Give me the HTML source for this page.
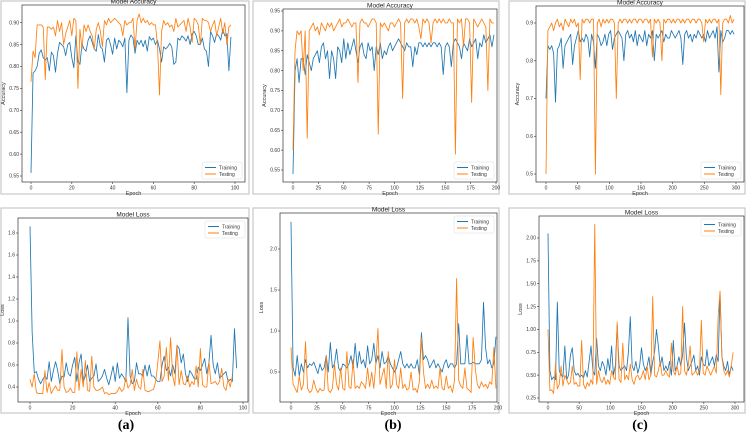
<!DOCTYPE html>
<html><head><meta charset="utf-8"><style>
html,body{margin:0;padding:0;background:#fff;width:746px;height:438px;overflow:hidden;font-family:"Liberation Sans",sans-serif}
svg text{font-family:"Liberation Sans",sans-serif}
svg text.serif{font-family:"Liberation Serif",serif}
</style></head><body>
<svg id="fig" width="746" height="438" viewBox="0 0 746 438"></svg>
<script>
const aAccTrain=[0.557,0.785,0.79,0.80,0.83,0.838,0.82,0.815,0.82,0.79,0.833,0.825,0.787,0.83,0.855,0.85,0.845,0.825,0.85,0.855,0.82,0.797,0.87,0.81,0.805,0.852,0.84,0.835,0.86,0.87,0.855,0.84,0.835,0.873,0.845,0.84,0.81,0.86,0.865,0.85,0.828,0.865,0.84,0.86,0.855,0.845,0.865,0.74,0.86,0.872,0.865,0.83,0.86,0.85,0.86,0.845,0.86,0.835,0.868,0.86,0.865,0.85,0.86,0.84,0.81,0.845,0.84,0.845,0.853,0.845,0.805,0.81,0.865,0.86,0.87,0.865,0.858,0.87,0.85,0.875,0.88,0.87,0.85,0.85,0.865,0.84,0.835,0.80,0.88,0.87,0.855,0.875,0.87,0.86,0.885,0.87,0.875,0.79,0.868];
const aAccTest=[0.765,0.835,0.82,0.895,0.895,0.895,0.89,0.77,0.89,0.89,0.885,0.89,0.87,0.905,0.88,0.90,0.85,0.875,0.89,0.905,0.87,0.91,0.905,0.75,0.885,0.84,0.895,0.88,0.895,0.88,0.87,0.84,0.885,0.90,0.88,0.845,0.905,0.895,0.91,0.90,0.905,0.91,0.905,0.90,0.895,0.87,0.905,0.895,0.90,0.90,0.91,0.84,0.905,0.92,0.90,0.91,0.90,0.905,0.895,0.90,0.895,0.895,0.85,0.735,0.88,0.905,0.895,0.90,0.89,0.895,0.88,0.91,0.89,0.895,0.90,0.905,0.88,0.91,0.89,0.855,0.91,0.905,0.895,0.85,0.91,0.905,0.905,0.90,0.88,0.895,0.905,0.87,0.89,0.91,0.875,0.90,0.85,0.89,0.895];
const aLossTrain=[1.86,0.9,0.53,0.54,0.47,0.43,0.47,0.5,0.47,0.63,0.45,0.55,0.63,0.55,0.43,0.5,0.49,0.62,0.52,0.5,0.6,0.67,0.45,0.62,0.7,0.45,0.5,0.6,0.45,0.48,0.5,0.61,0.45,0.47,0.5,0.56,0.48,0.42,0.5,0.59,0.45,0.62,0.48,0.52,0.49,0.45,1.03,0.5,0.43,0.45,0.62,0.52,0.52,0.5,0.6,0.5,0.6,0.5,0.5,0.47,0.45,0.45,0.6,0.68,0.55,0.58,0.5,0.6,0.52,0.78,0.75,0.62,0.7,0.52,0.45,0.55,0.52,0.48,0.47,0.58,0.55,0.6,0.66,0.52,0.62,0.87,0.6,0.52,0.62,0.48,0.5,0.52,0.54,0.45,0.47,0.45,0.93,0.57];
const aLossTest=[0.47,0.4,0.52,0.35,0.34,0.34,0.34,0.55,0.35,0.44,0.34,0.38,0.41,0.37,0.37,0.74,0.4,0.35,0.36,0.39,0.35,0.35,0.72,0.37,0.56,0.4,0.64,0.37,0.36,0.68,0.4,0.37,0.37,0.38,0.4,0.34,0.35,0.33,0.34,0.34,0.34,0.36,0.4,0.36,0.38,0.49,0.39,0.42,0.56,0.37,0.47,0.4,0.38,0.56,0.37,0.36,0.36,0.37,0.38,0.45,0.62,0.82,0.45,0.5,0.76,0.46,0.85,0.5,0.41,0.78,0.42,0.55,0.43,0.42,0.5,0.4,0.45,0.42,0.59,0.4,0.75,0.42,0.4,0.4,0.63,0.43,0.44,0.45,0.42,0.45,0.57,0.4,0.37,0.47,0.4,0.5];
const bAccTrain=[0.54,0.80,0.83,0.77,0.83,0.83,0.79,0.84,0.82,0.80,0.83,0.84,0.85,0.82,0.86,0.87,0.83,0.85,0.78,0.85,0.83,0.78,0.86,0.85,0.82,0.88,0.83,0.87,0.84,0.86,0.88,0.85,0.82,0.86,0.87,0.84,0.83,0.87,0.85,0.86,0.80,0.86,0.84,0.87,0.83,0.85,0.84,0.86,0.87,0.85,0.86,0.87,0.88,0.87,0.86,0.85,0.87,0.86,0.86,0.81,0.86,0.84,0.87,0.87,0.86,0.87,0.86,0.87,0.86,0.87,0.87,0.86,0.87,0.86,0.79,0.86,0.87,0.86,0.81,0.87,0.88,0.87,0.86,0.83,0.87,0.86,0.85,0.88,0.86,0.87,0.88,0.83,0.87,0.86,0.89,0.87,0.88,0.89,0.86,0.89];
const bAccTest=[0.60,0.85,0.90,0.89,0.90,0.80,0.90,0.63,0.90,0.91,0.92,0.90,0.91,0.89,0.92,0.91,0.90,0.92,0.91,0.92,0.90,0.91,0.92,0.93,0.91,0.92,0.92,0.93,0.92,0.91,0.92,0.92,0.77,0.92,0.93,0.92,0.92,0.91,0.92,0.93,0.93,0.92,0.64,0.92,0.91,0.92,0.91,0.90,0.92,0.92,0.91,0.92,0.93,0.92,0.73,0.92,0.93,0.92,0.93,0.93,0.92,0.93,0.91,0.88,0.93,0.92,0.93,0.92,0.87,0.92,0.93,0.92,0.93,0.92,0.93,0.92,0.92,0.93,0.92,0.92,0.59,0.93,0.92,0.93,0.86,0.93,0.93,0.92,0.72,0.93,0.92,0.91,0.92,0.93,0.92,0.91,0.75,0.93,0.92,0.92];
const bLossTrain=[2.33,0.55,0.45,0.7,0.45,0.6,0.5,0.65,0.55,0.6,0.58,0.62,0.55,0.48,0.6,0.52,0.55,0.7,0.5,0.86,0.55,0.6,0.78,0.55,0.5,0.6,0.58,0.55,0.6,0.7,0.55,0.85,0.55,0.75,0.6,0.65,0.55,0.82,0.6,0.65,0.85,0.6,0.7,0.55,0.75,0.6,0.62,0.7,0.6,0.55,0.5,0.55,0.65,0.75,0.6,0.55,0.6,0.55,0.6,0.55,0.55,0.65,0.47,0.98,0.65,0.7,0.65,0.55,0.6,0.65,0.55,0.6,0.55,0.5,0.6,0.65,0.55,0.6,0.6,0.55,0.6,1.09,0.6,0.6,0.6,0.95,0.6,0.6,0.62,0.6,0.6,0.6,0.65,1.35,0.8,0.6,0.65,0.55,0.6,0.93];
const bLossTest=[0.8,0.35,0.3,0.25,0.45,0.28,0.35,0.87,0.3,0.25,0.27,0.4,0.3,0.25,0.3,0.27,0.28,0.7,0.28,0.25,0.3,0.6,0.35,0.28,0.55,0.3,0.28,0.75,0.32,0.3,0.65,0.3,0.33,0.3,0.38,0.35,0.3,0.55,0.32,0.5,0.3,0.6,1.03,0.35,0.45,0.55,0.3,0.75,0.3,0.35,0.65,0.35,0.3,0.55,0.3,0.35,0.28,0.3,0.5,0.28,0.3,0.25,0.38,0.92,0.5,0.3,0.35,0.3,0.4,0.3,0.33,0.3,0.55,0.3,0.28,0.45,0.3,0.33,0.25,0.4,1.64,0.4,0.33,0.3,0.55,0.3,0.28,0.25,0.92,0.55,0.35,0.3,0.38,0.32,0.35,0.3,0.38,0.35,0.8,0.3];
const cAccTrain=[0.70,0.84,0.83,0.84,0.82,0.69,0.83,0.84,0.86,0.78,0.84,0.85,0.86,0.87,0.79,0.84,0.86,0.88,0.85,0.86,0.85,0.87,0.86,0.81,0.87,0.85,0.78,0.87,0.86,0.84,0.85,0.87,0.84,0.87,0.88,0.83,0.86,0.87,0.88,0.87,0.86,0.80,0.87,0.88,0.86,0.87,0.85,0.88,0.84,0.87,0.86,0.85,0.88,0.84,0.87,0.86,0.88,0.80,0.87,0.86,0.87,0.88,0.85,0.87,0.86,0.86,0.88,0.87,0.86,0.87,0.88,0.86,0.79,0.87,0.88,0.86,0.87,0.85,0.87,0.86,0.88,0.87,0.86,0.87,0.85,0.88,0.86,0.87,0.88,0.86,0.89,0.77,0.88,0.85,0.86,0.88,0.88,0.87,0.88,0.87];
const cAccTest=[0.50,0.88,0.89,0.90,0.88,0.90,0.91,0.89,0.90,0.88,0.91,0.90,0.89,0.91,0.90,0.91,0.89,0.90,0.75,0.91,0.90,0.91,0.91,0.90,0.91,0.91,0.50,0.90,0.91,0.89,0.91,0.90,0.91,0.90,0.91,0.91,0.90,0.70,0.90,0.91,0.90,0.91,0.91,0.90,0.91,0.90,0.91,0.91,0.90,0.91,0.91,0.90,0.91,0.91,0.90,0.91,0.81,0.91,0.90,0.91,0.90,0.80,0.91,0.90,0.91,0.91,0.90,0.91,0.90,0.91,0.91,0.90,0.91,0.90,0.91,0.91,0.90,0.91,0.91,0.90,0.91,0.91,0.90,0.85,0.91,0.90,0.91,0.90,0.91,0.91,0.90,0.91,0.71,0.90,0.91,0.91,0.90,0.92,0.90,0.91];
const cLossTrain=[2.05,0.55,0.45,0.48,0.45,1.3,0.55,0.5,0.48,0.82,0.45,0.5,0.72,0.8,0.55,0.5,0.52,0.48,0.5,0.47,0.55,0.48,0.65,0.82,0.55,0.5,0.9,0.6,0.55,0.65,0.6,0.5,0.68,0.55,0.82,0.5,0.6,1.05,0.6,0.55,0.58,0.6,0.55,0.75,1.14,0.6,0.55,0.65,0.52,0.6,0.8,0.62,0.55,0.6,0.7,0.5,0.65,0.75,1.0,0.82,0.6,0.7,0.55,0.6,0.55,0.65,0.5,0.88,0.55,0.6,0.7,0.6,0.72,1.07,0.7,0.55,0.6,0.65,0.72,0.55,0.6,0.5,0.7,0.62,0.6,0.78,0.6,0.65,0.7,0.6,0.72,0.65,1.4,0.7,0.6,0.55,0.65,0.5,0.6,0.55];
const cLossTest=[1.0,0.33,0.34,0.3,0.62,0.35,0.4,0.6,0.38,0.5,0.45,0.4,0.42,0.6,0.4,0.42,0.38,0.38,0.88,0.4,0.35,0.42,0.38,0.45,0.4,2.15,0.4,0.55,0.45,0.42,0.48,0.4,0.45,0.4,0.55,0.48,0.45,1.08,0.45,0.42,0.85,0.45,0.5,0.45,0.62,0.45,0.4,0.48,0.5,0.45,0.48,0.55,0.45,0.6,0.45,0.5,1.36,0.5,0.48,0.55,0.65,0.5,0.5,0.55,0.5,0.48,0.85,0.55,0.5,0.6,0.5,0.52,1.25,0.55,0.5,0.6,0.82,0.5,0.52,0.55,0.5,0.55,1.1,0.52,0.5,0.6,0.55,0.5,0.55,0.6,0.52,1.15,1.42,0.7,0.55,0.5,0.55,0.48,0.6,0.75];
const aXTicks=[0,20,40,60,80,100], bXTicks=[0,25,50,75,100,125,150,175,200], cXTicks=[0,50,100,150,200,250,300];
const aAccYTicks=[0.55,0.60,0.65,0.70,0.75,0.80,0.85,0.90];
const bAccYTicks=[0.55,0.60,0.65,0.70,0.75,0.80,0.85,0.90,0.95];
const cAccYTicks=[0.5,0.6,0.7,0.8,0.9];
const aLossYTicks=[0.4,0.6,0.8,1.0,1.2,1.4,1.6,1.8];
const bLossYTicks=[0.5,1.0,1.5,2.0];
const cLossYTicks=[0.25,0.50,0.75,1.00,1.25,1.50,1.75,2.00];
const aStep=1,bStep=2,cStep=3;

const NS='http://www.w3.org/2000/svg';
const svg=document.getElementById('fig');
function mk(tag,attrs,parent){const e=document.createElementNS(NS,tag);for(const k in attrs)e.setAttribute(k,attrs[k]);(parent||svg).appendChild(e);return e;}

function panel(p){
  const g=mk('g',{});
  
  
  const fr=mk('rect',{x:p.fx,y:p.fy,width:p.fw,height:p.fh,fill:'none',stroke:'#c8c8c8','stroke-width':1.2},g);
  
  
  const sx=v=>p.x0+(v-p.xmin)/(p.xmax-p.xmin)*(p.x1-p.x0);
  const sy=v=>p.y0+(v-p.ymin)/(p.ymax-p.ymin)*(p.y1-p.y0);
  const ax=mk('rect',{x:p.l,y:p.t,width:p.r-p.l,height:p.b-p.t,fill:'#fff',stroke:'#333','stroke-width':0.7},g);
  
  
  p.xt.forEach(v=>{const X=sx(v);mk('line',{x1:X,x2:X,y1:p.b,y2:p.b+2,stroke:'#333','stroke-width':0.6},g);
    const t=mk('text',{x:X,y:p.b+7.5,'font-size':5,'text-anchor':'middle',fill:'#333'},g);t.textContent=v;
    
    });
  p.yt.forEach(v=>{const Y=sy(v);mk('line',{x1:p.l-2,x2:p.l,y1:Y,y2:Y,stroke:'#333','stroke-width':0.6},g);
    const t=mk('text',{x:p.l-3,y:Y+1.7,'font-size':5,'text-anchor':'end',fill:'#333'},g);t.textContent=v.toFixed(p.dec);
    
    });
  const tt=mk('text',{x:(p.l+p.r)/2,y:p.t-1.5,'font-size':6.5,'text-anchor':'middle',fill:'#222'},g);tt.textContent=p.title;
  
  
  const xl=mk('text',{x:(p.l+p.r)/2,y:p.b+13,'font-size':5.5,'text-anchor':'middle',fill:'#333'},g);xl.textContent='Epoch';
  
  
  const yx=Math.max(p.l-17,4), yy=(p.t+p.b)/2;
  const yl=mk('text',{x:yx,y:yy,'font-size':5.5,'text-anchor':'middle',fill:'#333',transform:`rotate(-90 ${yx} ${yy})`},g);yl.textContent=p.ylabel;
  
  
  [[p.train,'#1f77b4','training-line'],[p.test,'#ff7f0e','testing-line']].forEach(([d,c,n])=>{
    const pts=d.map((v,i)=>sx(i*p.step).toFixed(2)+','+sy(v).toFixed(2)).join(' ');
    const pl=mk('polyline',{points:pts,fill:'none',stroke:c,'stroke-width':0.85,'stroke-linejoin':'round'},g);
    
    
  });
  const lw=40,lh=17;
  const lx=p.r-lw-3, ly=p.legTop? p.t+3 : p.b-lh-3;
  const lg=mk('g',{},g);
  
  
  mk('rect',{x:lx,y:ly,width:lw,height:lh,fill:'#fff',stroke:'#ddd','stroke-width':0.5,rx:1.5},lg);
  [['Training','#1f77b4'],['Testing','#ff7f0e']].forEach(([n,c],i)=>{
    const yy2=ly+5.5+i*6.5;
    mk('line',{x1:lx+3,x2:lx+14,y1:yy2,y2:yy2,stroke:c,'stroke-width':1},lg);
    const t=mk('text',{x:lx+17,y:yy2+1.8,'font-size':5,fill:'#333'},lg);t.textContent=n;
    
    
  });
}

panel({name:'accuracy-chart-a',fx:1,fy:1,fw:248,fh:193,l:22,r:245,t:5,b:182,x0:31,x1:235,xmin:0,xmax:100,y0:22.7,y1:176,ymin:0.90,ymax:0.55,xt:aXTicks,yt:aAccYTicks,dec:2,step:aStep,train:aAccTrain,test:aAccTest,title:'Model Accuracy',ylabel:'Accuracy',legTop:false});
panel({name:'accuracy-chart-b',fx:253,fy:1,fw:246,fh:193,l:283,r:497,t:9,b:182,x0:293,x1:496,xmin:0,xmax:200,y0:11,y1:170,ymin:0.95,ymax:0.55,xt:bXTicks,yt:bAccYTicks,dec:2,step:bStep,train:bAccTrain,test:bAccTest,title:'Model Accuracy',ylabel:'Accuracy',legTop:false});
panel({name:'accuracy-chart-c',fx:509,fy:1,fw:236,fh:193,l:536,r:744,t:6,b:182,x0:546,x1:736,xmin:0,xmax:300,y0:23,y1:174,ymin:0.9,ymax:0.5,xt:cXTicks,yt:cAccYTicks,dec:1,step:cStep,train:cAccTrain,test:cAccTest,title:'Model Accuracy',ylabel:'Accuracy',legTop:false});
panel({name:'loss-chart-a',fx:1,fy:208,fw:248,fh:205,l:18,r:248,t:218,b:402,x0:30,x1:243,xmin:0,xmax:100,y0:233,y1:387,ymin:1.8,ymax:0.4,xt:aXTicks,yt:aLossYTicks,dec:1,step:aStep,train:aLossTrain,test:aLossTest,title:'Model Loss',ylabel:'Loss',legTop:true});
panel({name:'loss-chart-b',fx:253,fy:208,fw:246,fh:205,l:280,r:497,t:213,b:402,x0:291,x1:498,xmin:0,xmax:200,y0:249,y1:372,ymin:2.0,ymax:0.5,xt:bXTicks,yt:bLossYTicks,dec:1,step:bStep,train:bLossTrain,test:bLossTest,title:'Model Loss',ylabel:'Loss',legTop:true});
panel({name:'loss-chart-c',fx:509,fy:208,fw:236,fh:205,l:539,r:744,t:216,b:402,x0:548,x1:735,xmin:0,xmax:300,y0:238,y1:398,ymin:2.0,ymax:0.25,xt:cXTicks,yt:cLossYTicks,dec:2,step:cStep,train:cLossTrain,test:cLossTest,title:'Model Loss',ylabel:'Loss',legTop:true});

[['(a)',126],['(b)',393],['(c)',640]].forEach(([s,x])=>{
  const t=mk('text',{x:x,y:429,'font-size':14,'font-weight':'bold','text-anchor':'middle',fill:'#000',class:'serif',style:'font-family:"Liberation Serif",serif'});
  t.textContent=s;
  
  
});
</script>
</body></html>
